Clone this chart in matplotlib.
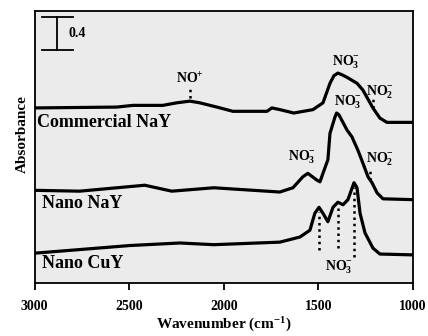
import numpy as np
import matplotlib
matplotlib.use("Agg")
import matplotlib.pyplot as plt

plt.rcParams['font.family'] = ['Liberation Serif', 'DejaVu Serif']
plt.rcParams['font.weight'] = 'bold'
plt.rcParams['mathtext.fontset'] = 'custom'
plt.rcParams['mathtext.rm'] = 'Liberation Serif:bold'
plt.rcParams['mathtext.it'] = 'Liberation Serif:bold'
plt.rcParams['mathtext.bf'] = 'Liberation Serif:bold'

# spectra (wavenumber, absorbance)
wn_comm = [3000, 2566, 2481, 2323, 2249, 2180, 2127, 2037, 1952, 1772, 1746, 1704,
           1630, 1529, 1476, 1439, 1418, 1397, 1375, 1349, 1296, 1265, 1212, 1175,
           1138, 1000]
abs_comm = [2.06, 2.07, 2.09, 2.09, 2.12, 2.14, 2.12, 2.07, 2.02, 2.02, 2.06, 2.04,
            2.00, 2.04, 2.12, 2.35, 2.44, 2.47, 2.45, 2.42, 2.35, 2.27, 2.06, 1.94,
            1.89, 1.89]

wn_nay = [3000, 2762, 2418, 2275, 2053, 1704, 1635, 1582, 1556, 1508, 1492, 1476,
          1450, 1439, 1413, 1404, 1392, 1349, 1323, 1291, 1265, 1238, 1217, 1190,
          1159, 1000]
abs_nay = [1.09, 1.08, 1.15, 1.08, 1.12, 1.07, 1.12, 1.25, 1.29, 1.21, 1.19, 1.29,
           1.45, 1.76, 1.95, 2.00, 1.98, 1.80, 1.72, 1.56, 1.41, 1.25, 1.18, 1.06,
           0.99, 0.98]

wn_cuy = [3000, 2497, 2233, 2053, 1704, 1598, 1545, 1519, 1497, 1476, 1450, 1423,
          1397, 1370, 1344, 1312, 1296, 1280, 1254, 1212, 1175, 1000]
abs_cuy = [0.35, 0.44, 0.47, 0.45, 0.48, 0.54, 0.62, 0.82, 0.89, 0.82, 0.72, 0.89,
           0.95, 0.92, 0.98, 1.18, 1.12, 0.82, 0.59, 0.41, 0.34, 0.33]

sample_names = ['Commercial NaY', 'Nano NaY', 'Nano CuY']

# peak markers (dotted lines)
cuy_peaks = [1497, 1397, 1312]
cuy_peak_top = [0.89, 0.95, 1.18]
cuy_peak_bot = [0.39, 0.41, 0.31]

fig = plt.figure(figsize=(4.28, 3.36), dpi=100)
ax = fig.add_axes([0.081, 0.158, 0.884, 0.809])
ax.set_facecolor('#ebebeb')

for w, a in [(wn_comm, abs_comm), (wn_nay, abs_nay), (wn_cuy, abs_cuy)]:
    ax.plot(w, a, color='black', lw=2.3, solid_joinstyle='round')

ax.set_xlim(3000, 1000)
ax.set_ylim(0.0, 3.2)
ax.set_xticks([3000, 2500, 2000, 1500, 1000])
ax.set_yticks([])
ax.tick_params(axis='x', direction='out', length=5, width=1.3, labelsize=10, pad=7)
for lab in ax.get_xticklabels():
    lab.set_fontweight('bold')
for s in ax.spines.values():
    s.set_linewidth(1.3)

ax.set_xlabel('Wavenumber (cm$^{-1}$)', fontsize=11, fontweight='bold', labelpad=2)
fig.text(0.052, 0.6, 'Absorbance', rotation=90, fontsize=11, fontweight='bold',
         ha='center', va='center')

# sample labels
ax.text(2990, 1.89, sample_names[0], fontsize=13, fontweight='bold', va='center')
ax.text(2960, 0.94, sample_names[1], fontsize=13, fontweight='bold', va='center')
ax.text(2960, 0.23, sample_names[2], fontsize=13, fontweight='bold', va='center')

# scale bar
ax.plot([2884, 2884], [2.74, 3.13], color='black', lw=1.3)
ax.plot([2963, 2799], [3.13, 3.13], color='black', lw=1.3)
ax.plot([2963, 2799], [2.74, 2.74], color='black', lw=1.3)
ax.text(2820, 2.94, '0.4', fontsize=10, fontweight='bold', va='center')

# peak annotations
dot = dict(color='black', lw=1.8, linestyle=(0, (1, 1.5)))
ax.plot([2180, 2180], [2.18, 2.29], **dot)
ax.text(2180, 2.40, 'NO$^{+}$', fontsize=10, ha='center', va='center')

ax.text(1355, 2.60, 'NO$_3^{-}$', fontsize=10, ha='center', va='center')
ax.plot([1212, 1212], [2.06, 2.20], **dot)
ax.text(1172, 2.25, 'NO$_2^{-}$', fontsize=10, ha='center', va='center')

ax.text(1345, 2.13, 'NO$_3^{-}$', fontsize=10, ha='center', va='center')
ax.text(1585, 1.48, 'NO$_3^{-}$', fontsize=10, ha='center', va='center')
ax.plot([1228, 1228], [1.21, 1.35], **dot)
ax.text(1172, 1.45, 'NO$_2^{-}$', fontsize=10, ha='center', va='center')

for p, t, b in zip(cuy_peaks, cuy_peak_top, cuy_peak_bot):
    ax.plot([p, p], [b, t - 0.05], **dot)
ax.text(1392, 0.19, 'NO$_3^{-}$', fontsize=10, ha='center', va='center')

fig.savefig('out.png', dpi=100)
